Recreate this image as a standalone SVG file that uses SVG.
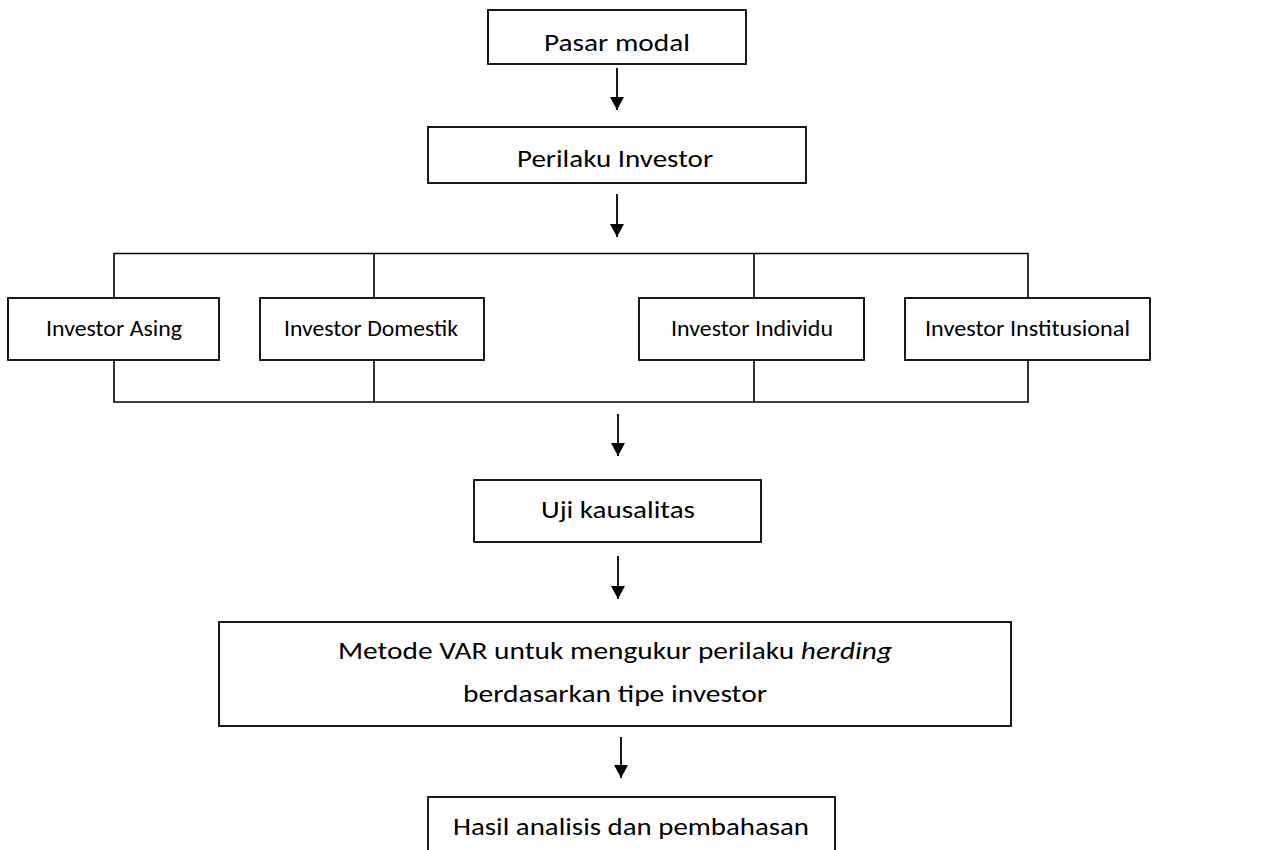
<svg xmlns="http://www.w3.org/2000/svg" width="1264" height="850" viewBox="0 0 1264 850">
<defs>
<style>
.box{fill:#fff;stroke:#000;stroke-width:1.8}
.ln{fill:none;stroke:#000;stroke-width:1.6}
.arr{fill:none;stroke:#000;stroke-width:1.8}
.t{font-family:Carlito,Calibri,Lato,"Noto Sans",sans-serif;font-size:25.5px;fill:#000;text-anchor:middle}
.s{font-size:22px}
</style>
<marker id="down" markerWidth="14" markerHeight="13" viewBox="0 0 14 13" refX="7" refY="13" orient="0" markerUnits="userSpaceOnUse">
<path d="M0,0 L14,0 L7,13 Z" fill="#000"/>
</marker>
</defs>
<rect width="1264" height="850" fill="#fff"/>

<g id="connectors">
<line class="arr" x1="617" y1="68" x2="617" y2="110" marker-end="url(#down)"/>
<line class="arr" x1="617" y1="194" x2="617" y2="237" marker-end="url(#down)"/>
<path class="ln" d="M114,298 V253.5 H1028 V298 M374,253.5 V298 M754,253.5 V298"/>
<path class="ln" d="M114,360 V402 H1028 V360 M374,360 V402 M754,360 V402"/>
<line class="arr" x1="618" y1="414" x2="618" y2="456" marker-end="url(#down)"/>
<line class="arr" x1="618" y1="556" x2="618" y2="599" marker-end="url(#down)"/>
<line class="arr" x1="621" y1="737" x2="621" y2="778" marker-end="url(#down)"/>
</g>

<g id="pasar-modal">
<rect class="box" x="488" y="10" width="258" height="54"/>
<text class="t" x="617" y="51" textLength="146" lengthAdjust="spacingAndGlyphs">Pasar modal</text>
</g>
<g id="perilaku-investor">
<rect class="box" x="428" y="127" width="378" height="56"/>
<text class="t" x="615" y="167" textLength="196" lengthAdjust="spacingAndGlyphs">Perilaku Investor</text>
</g>
<g id="investor-asing">
<rect class="box" x="8" y="298" width="211" height="62"/>
<text class="t s" x="114" y="336" textLength="136" lengthAdjust="spacingAndGlyphs">Investor Asing</text>
</g>
<g id="investor-domestik">
<rect class="box" x="260" y="298" width="224" height="62"/>
<text class="t s" x="371" y="336" textLength="174" lengthAdjust="spacingAndGlyphs">Investor Domestik</text>
</g>
<g id="investor-individu">
<rect class="box" x="639" y="298" width="225" height="62"/>
<text class="t s" x="752" y="336" textLength="162" lengthAdjust="spacingAndGlyphs">Investor Individu</text>
</g>
<g id="investor-institusional">
<rect class="box" x="905" y="298" width="245" height="62"/>
<text class="t s" x="1027.5" y="336" textLength="205" lengthAdjust="spacingAndGlyphs">Investor Institusional</text>
</g>
<g id="uji-kausalitas">
<rect class="box" x="474" y="480" width="287" height="62"/>
<text class="t" x="618" y="518" textLength="154" lengthAdjust="spacingAndGlyphs">Uji kausalitas</text>
</g>
<g id="metode-var">
<rect class="box" x="219" y="622" width="792" height="104"/>
<text class="t" x="615" y="659" textLength="554" lengthAdjust="spacingAndGlyphs">Metode VAR untuk mengukur perilaku <tspan font-style="italic">herding</tspan></text>
<text class="t" x="615" y="702" textLength="304" lengthAdjust="spacingAndGlyphs">berdasarkan tipe investor</text>
</g>
<g id="hasil-analisis">
<rect class="box" x="428" y="797" width="407" height="70"/>
<text class="t" x="631" y="835" textLength="356" lengthAdjust="spacingAndGlyphs">Hasil analisis dan pembahasan</text>
</g>
</svg>
